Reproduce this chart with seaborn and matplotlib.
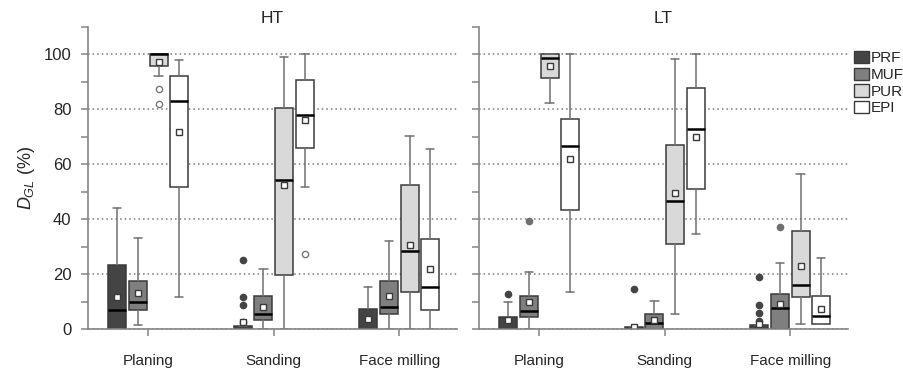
import matplotlib
matplotlib.use("Agg")
import matplotlib.pyplot as plt
from matplotlib.patches import Patch
from matplotlib.ticker import MultipleLocator
import seaborn as sns

# Categories
processes = ["Planing", "Sanding", "Face milling"]
adhesives = ["PRF", "MUF", "PUR", "EPI"]
panels = ["HT", "LT"]

# Box statistics, D_GL (%) per adhesive, one value per process
# ---- HT ----
ht_med = {"PRF": [6.8, 0.0, 0.0], "MUF": [9.9, 5.4, 8.1],
          "PUR": [100.0, 54.3, 28.3], "EPI": [82.9, 77.8, 15.4]}
ht_q1 = {"PRF": [0.0, 0.0, 0.0], "MUF": [6.8, 3.3, 5.3],
         "PUR": [95.9, 19.7, 13.3], "EPI": [51.8, 65.9, 6.9]}
ht_q3 = {"PRF": [23.4, 1.2, 7.3], "MUF": [17.5, 12.0, 17.5],
         "PUR": [100.0, 80.5, 52.4], "EPI": [92.2, 90.7, 32.8]}
ht_lo = {"PRF": [0.0, 0.0, 0.0], "MUF": [1.4, 0.0, 0.0],
         "PUR": [92.0, 0.0, 0.0], "EPI": [11.8, 51.6, 0.0]}
ht_hi = {"PRF": [44.0, 1.2, 15.3], "MUF": [33.0, 21.8, 32.2],
         "PUR": [100.0, 98.9, 70.3], "EPI": [97.9, 100.0, 65.7]}
ht_mean = {"PRF": [11.8, 2.6, 3.7], "MUF": [13.2, 8.1, 12.2],
           "PUR": [97.3, 52.3, 30.5], "EPI": [71.6, 76.1, 21.9]}
ht_fliers = {"PRF": [[], [25.3, 11.5, 8.8, 2.6], []], "MUF": [[], [], []],
             "PUR": [[87.4, 82.1], [], []], "EPI": [[], [27.4], []]}

# ---- LT ----
lt_med = {"PRF": [0.0, 0.0, 0.0], "MUF": [6.5, 2.2, 7.6],
          "PUR": [98.8, 46.7, 16.0], "EPI": [66.6, 73.0, 4.6]}
lt_q1 = {"PRF": [0.0, 0.0, 0.0], "MUF": [4.5, 0.0, 0.0],
         "PUR": [91.4, 30.9, 11.7], "EPI": [43.2, 51.1, 1.8]}
lt_q3 = {"PRF": [4.5, 0.6, 1.4], "MUF": [12.0, 5.4, 12.6],
         "PUR": [100.0, 66.9, 35.7], "EPI": [76.4, 87.7, 11.9]}
lt_lo = {"PRF": [0.0, 0.0, 0.0], "MUF": [0.0, 0.0, 0.0],
         "PUR": [82.3, 5.4, 2.0], "EPI": [13.4, 34.6, 1.8]}
lt_hi = {"PRF": [9.7, 0.6, 1.4], "MUF": [20.9, 10.3, 24.1],
         "PUR": [100.0, 98.3, 56.4], "EPI": [100.0, 100.0, 25.7]}
lt_mean = {"PRF": [3.1, 0.8, 1.9], "MUF": [9.7, 3.4, 9.2],
           "PUR": [95.8, 49.4, 23.1], "EPI": [61.9, 69.8, 7.3]}
lt_fliers = {"PRF": [[12.7], [14.4], [19.1, 8.7, 5.8, 3.0]], "MUF": [[39.5], [], [37.0]],
             "PUR": [[], [], []], "EPI": [[], [], []]}

panel_stats = {
    "HT": (ht_med, ht_q1, ht_q3, ht_lo, ht_hi, ht_mean, ht_fliers),
    "LT": (lt_med, lt_q1, lt_q3, lt_lo, lt_hi, lt_mean, lt_fliers),
}

# Styling
face = {"PRF": "#444444", "MUF": "#7f7f7f", "PUR": "#d9d9d9", "EPI": "#ffffff"}
flier_face = {"PRF": "#444444", "MUF": "#6f6f6f", "PUR": "#ffffff", "EPI": "#ffffff"}
flier_edge = {"PRF": "#444444", "MUF": "#6f6f6f", "PUR": "#777777", "EPI": "#777777"}
edge = "#3a3a3a"
whisk = "#707070"
axis_col = "#858585"

sns.set_theme(style="ticks")
plt.rcParams["font.family"] = ["Liberation Sans", "DejaVu Sans"]
plt.rcParams["mathtext.fontset"] = "custom"
plt.rcParams["mathtext.rm"] = "Liberation Sans"
plt.rcParams["mathtext.it"] = "Liberation Sans:italic"

fig = plt.figure(figsize=(9.04, 3.70), dpi=100)
W, H = 904, 370
axes = [fig.add_axes([88 / W, 1 - 329 / H, 369 / W, 302 / H]),
        fig.add_axes([479 / W, 1 - 329 / H, 369 / W, 302 / H])]

pitch = 0.165
width = 0.143
offsets = [-1.5 * pitch, -0.5 * pitch, 0.5 * pitch, 1.5 * pitch]

for ax, panel in zip(axes, panels):
    med, q1, q3, lo, hi, mean, fliers = panel_stats[panel]
    ax.yaxis.grid(True, which="major", linestyle=(0, (1, 2)), color="#7a7a7a", lw=1.1, zorder=0)
    ax.set_axisbelow(True)
    for a, off in zip(adhesives, offsets):
        stats = []
        for i in range(len(processes)):
            stats.append(dict(med=med[a][i], q1=q1[a][i], q3=q3[a][i],
                              whislo=lo[a][i], whishi=hi[a][i],
                              mean=mean[a][i], fliers=fliers[a][i]))
        positions = [i + off for i in range(len(processes))]
        ax.bxp(stats, positions=positions, widths=width, capwidths=0.066,
               patch_artist=True, showmeans=True, manage_ticks=False,
               boxprops=dict(facecolor=face[a], edgecolor=edge, linewidth=1.1),
               whiskerprops=dict(color=whisk, linewidth=1.1),
               capprops=dict(color=whisk, linewidth=1.1),
               medianprops=dict(color="black", linewidth=1.8),
               meanprops=dict(marker="s", markersize=5, markerfacecolor="white",
                              markeredgecolor=edge, markeredgewidth=1.0),
               flierprops=dict(marker="o", markersize=4.5, markerfacecolor=flier_face[a],
                               markeredgecolor=flier_edge[a], markeredgewidth=1.0))

    ax.set_xlim(-0.48, 2.46)
    ax.set_ylim(0, 110)
    ax.set_xticks(range(len(processes)))
    ax.set_xticklabels(processes, fontsize=11)
    ax.set_yticks(range(0, 101, 20))
    ax.yaxis.set_minor_locator(MultipleLocator(10))
    ax.tick_params(axis="x", length=5, width=1.1, color=axis_col, pad=13, labelsize=11)
    ax.tick_params(axis="y", which="both", length=5, width=1.1, color=axis_col,
                   direction="out", pad=7, labelsize=12)
    for s in ("top", "right"):
        ax.spines[s].set_visible(False)
    for s in ("left", "bottom"):
        ax.spines[s].set_color(axis_col)
        ax.spines[s].set_linewidth(1.2)
        ax.spines[s].set_zorder(5)
    ax.set_title(panel, fontsize=12.5, pad=3)

axes[1].tick_params(axis="y", which="both", labelleft=False)
axes[0].set_ylabel(r"$D_{GL}$ (%)", fontsize=13, labelpad=5)

handles = [Patch(facecolor=face[a], edgecolor=edge, linewidth=1.0, label=a) for a in adhesives]
fig.legend(handles=handles, loc="upper left", bbox_to_anchor=(854 / W, 1 - 51 / H),
           frameon=False, fontsize=11, handlelength=1.0, handleheight=0.85,
           handletextpad=0.12, labelspacing=0.15, borderpad=0, borderaxespad=0)

fig.savefig("out.png", dpi=100)
